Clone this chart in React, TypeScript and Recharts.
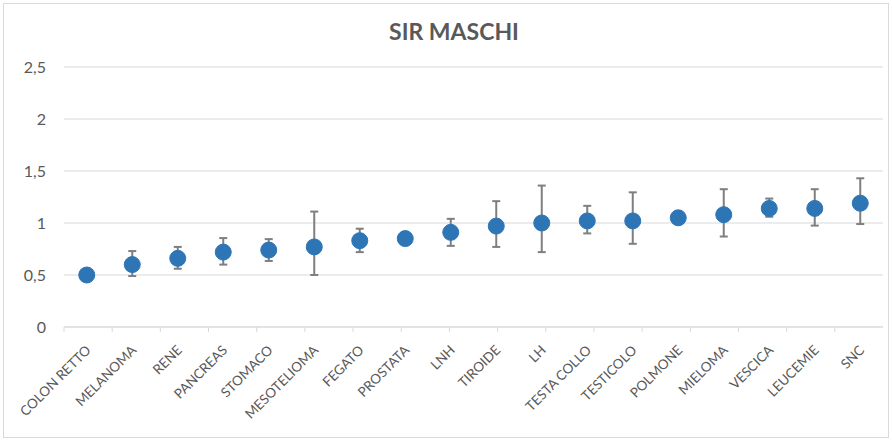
import React from 'react';
import { ComposedChart, Line, XAxis, YAxis, CartesianGrid, ErrorBar } from 'recharts';

const categories = ['COLON RETTO', 'MELANOMA', 'RENE', 'PANCREAS', 'STOMACO', 'MESOTELIOMA', 'FEGATO', 'PROSTATA', 'LNH', 'TIROIDE', 'LH', 'TESTA COLLO', 'TESTICOLO', 'POLMONE', 'MIELOMA', 'VESCICA', 'LEUCEMIE', 'SNC'];
const sir = [0.50, 0.60, 0.66, 0.72, 0.74, 0.77, 0.83, 0.85, 0.91, 0.97, 1.00, 1.02, 1.02, 1.05, 1.08, 1.14, 1.14, 1.19];
const lower = [0.47, 0.49, 0.56, 0.60, 0.635, 0.50, 0.72, 0.80, 0.78, 0.77, 0.72, 0.90, 0.80, 1.00, 0.87, 1.06, 0.975, 0.99];
const upper = [0.53, 0.73, 0.77, 0.855, 0.845, 1.11, 0.945, 0.90, 1.04, 1.21, 1.36, 1.165, 1.295, 1.11, 1.325, 1.235, 1.325, 1.43];
const yTicks = [0, 0.5, 1, 1.5, 2, 2.5];
const boundaryTicks = categories.map((_, i) => i).concat([categories.length]);

const data = categories.map((name, i) => ({
  name,
  sir: sir[i],
  err: [sir[i] - lower[i], upper[i] - sir[i]],
}));

const TEXT = '#595959';
const GRID = '#D9D9D9';
const FONT = 'Lato, "Open Sans", sans-serif';

const XTick = (props: any) => {
  const { x, y, payload } = props;
  return (
    <g transform={`translate(${x},${y})`}>
      <text
        x={5}
        y={17}
        textAnchor="end"
        transform="rotate(-45, 5, 17)"
        fill={TEXT}
        fontSize={13.5}
        fontFamily={FONT}
      >
        {payload.value}
      </text>
    </g>
  );
};

const EmptyTick = () => <g />;

export default function App() {
  return (
    <div style={{ position: 'absolute', left: 0, top: 0, width: 892, height: 440, background: '#fff' }}>
      <div
        style={{
          position: 'absolute',
          left: 3,
          top: 3,
          width: 884,
          height: 433,
          border: `1px solid ${GRID}`,
        }}
      />
      <div
        style={{
          position: 'absolute',
          left: 0,
          top: 17,
          width: 908,
          textAlign: 'center',
          fontFamily: FONT,
          fontWeight: 700,
          fontSize: 23,
          lineHeight: '28px',
          color: TEXT,
        }}
      >
        SIR MASCHI
      </div>
      <div style={{ position: 'absolute', left: 0, top: 0 }}>
        <ComposedChart width={892} height={440} data={data} margin={{ top: 67, right: 9, left: 8, bottom: 0 }}>
          <CartesianGrid xAxisId="z" vertical={false} stroke={GRID} strokeWidth={1} />
          <XAxis
            xAxisId="a"
            type="number"
            domain={[0, categories.length]}
            ticks={boundaryTicks}
            height={1}
            tick={EmptyTick}
            tickSize={5}
            tickLine={{ stroke: GRID }}
            axisLine={{ stroke: GRID }}
            allowDataOverflow
          />
          <XAxis
            xAxisId="z"
            dataKey="name"
            scale="band"
            interval={0}
            height={112}
            axisLine={false}
            tickLine={false}
            tickMargin={0}
            tick={<XTick />}
          />
          <YAxis
            domain={[0, 2.5]}
            ticks={yTicks}
            width={56}
            axisLine={false}
            tickLine={false}
            tickMargin={12}
            tick={{ fill: TEXT, fontSize: 16, fontFamily: FONT }}
            tickFormatter={(v: number) => String(v).replace('.', ',')}
          />
          <Line
            xAxisId="z"
            dataKey="sir"
            stroke="none"
            isAnimationActive={false}
            dot={{ r: 8, fill: '#2E75B6', stroke: '#2E75B6', strokeWidth: 1 }}
            activeDot={false}
          >
            <ErrorBar dataKey="err" direction="y" width={4} stroke="#7F7F7F" strokeWidth={2} />
          </Line>
        </ComposedChart>
      </div>
    </div>
  );
}
